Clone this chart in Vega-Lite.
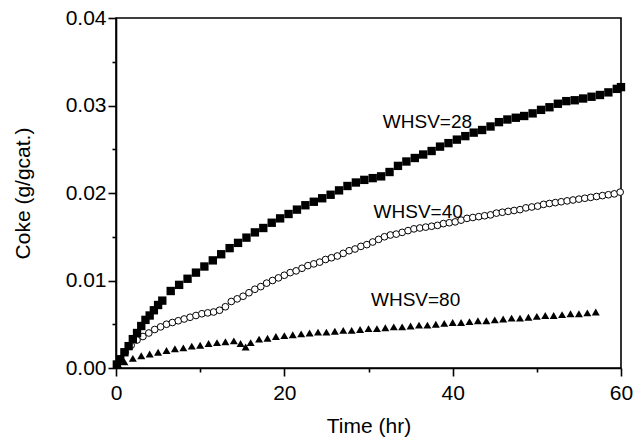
{
  "$schema": "https://vega.github.io/schema/vega-lite/v6.json",
  "width": 505,
  "height": 350,
  "autosize": {"type": "none"},
  "padding": {"left": 116, "top": 18, "right": 14, "bottom": 69},
  "background": "white",
  "config": {
    "view": {"stroke": "black", "strokeWidth": 1.6},
    "font": "Liberation Sans",
    "axis": {"domainColor": "black", "domainWidth": 1.6, "tickColor": "black", "tickWidth": 1.6, "grid": false, "labelColor": "black", "titleColor": "black", "labelFont": "Liberation Sans", "titleFont": "Liberation Sans", "labelFontSize": 21, "titleFontSize": 21, "titleFontWeight": "normal"}
  },
  "datasets": {
    "s28": [
      {"t": 0.1, "c": 0.0004}, {"t": 0.5, "c": 0.001}, {"t": 1, "c": 0.0018}, {"t": 1.5, "c": 0.0025}, {"t": 2, "c": 0.0033}, {"t": 2.5, "c": 0.004}, {"t": 3, "c": 0.0048}, {"t": 3.5, "c": 0.0055}, {"t": 4, "c": 0.006}, {"t": 4.5, "c": 0.0066}, {"t": 5, "c": 0.0072}, {"t": 5.5, "c": 0.0077},
      {"t": 6.5, "c": 0.0088}, {"t": 7.5, "c": 0.0095}, {"t": 8.5, "c": 0.0102}, {"t": 9.5, "c": 0.0109}, {"t": 10.5, "c": 0.0116}, {"t": 11.5, "c": 0.0123}, {"t": 12.5, "c": 0.013}, {"t": 13.5, "c": 0.0137}, {"t": 14.5, "c": 0.0143}, {"t": 15.5, "c": 0.0149}, {"t": 16.5, "c": 0.0155}, {"t": 17.5, "c": 0.016}, {"t": 18.5, "c": 0.0166}, {"t": 19.5, "c": 0.0171}, {"t": 20.5, "c": 0.0176}, {"t": 21.5, "c": 0.0181}, {"t": 22.5, "c": 0.0186}, {"t": 23.5, "c": 0.019}, {"t": 24.5, "c": 0.0194}, {"t": 25.5, "c": 0.0198}, {"t": 26.5, "c": 0.0203}, {"t": 27.5, "c": 0.0208}, {"t": 28.5, "c": 0.0212}, {"t": 29.5, "c": 0.0215}, {"t": 30.5, "c": 0.0217}, {"t": 31.5, "c": 0.0219}, {"t": 32.5, "c": 0.0224}, {"t": 33.5, "c": 0.0231}, {"t": 34.5, "c": 0.0236}, {"t": 35.5, "c": 0.024}, {"t": 36.5, "c": 0.0244}, {"t": 37.5, "c": 0.0248}, {"t": 38.5, "c": 0.0253}, {"t": 39.5, "c": 0.0257}, {"t": 40.5, "c": 0.0261}, {"t": 41.5, "c": 0.0265}, {"t": 42.5, "c": 0.0269}, {"t": 43.5, "c": 0.0272}, {"t": 44.5, "c": 0.0276}, {"t": 45.5, "c": 0.0281}, {"t": 46.5, "c": 0.0284}, {"t": 47.5, "c": 0.0286}, {"t": 48.5, "c": 0.0288}, {"t": 49.5, "c": 0.0291}, {"t": 50.5, "c": 0.0295}, {"t": 51.5, "c": 0.0298}, {"t": 52.5, "c": 0.0302}, {"t": 53.5, "c": 0.0305}, {"t": 54.5, "c": 0.0306}, {"t": 55.5, "c": 0.0308}, {"t": 56.5, "c": 0.031}, {"t": 57.5, "c": 0.0312}, {"t": 58.5, "c": 0.0315}, {"t": 59.5, "c": 0.0319}, {"t": 60, "c": 0.0321}
    ],
    "s40": [
      {"t": 0.4, "c": 0.0008}, {"t": 1.1, "c": 0.0018}, {"t": 1.8, "c": 0.0026}, {"t": 2.5, "c": 0.0032}, {"t": 3.2, "c": 0.0036}, {"t": 3.9, "c": 0.004}, {"t": 4.6, "c": 0.0044}, {"t": 5.3, "c": 0.0047}, {"t": 6.0, "c": 0.005}, {"t": 6.7, "c": 0.0052}, {"t": 7.4, "c": 0.0054}, {"t": 8.1, "c": 0.0056}, {"t": 8.8, "c": 0.0058}, {"t": 9.5, "c": 0.006}, {"t": 10.2, "c": 0.0062}, {"t": 10.9, "c": 0.0063}, {"t": 11.6, "c": 0.0064}, {"t": 12.3, "c": 0.0066}, {"t": 13.0, "c": 0.007}, {"t": 13.7, "c": 0.0076}, {"t": 14.4, "c": 0.0079}, {"t": 15.1, "c": 0.0082}, {"t": 15.8, "c": 0.0086}, {"t": 16.5, "c": 0.009}, {"t": 17.2, "c": 0.0093}, {"t": 17.9, "c": 0.0097}, {"t": 18.6, "c": 0.01}, {"t": 19.3, "c": 0.0103}, {"t": 20.0, "c": 0.0106}, {"t": 20.7, "c": 0.0109}, {"t": 21.4, "c": 0.0111}, {"t": 22.1, "c": 0.0114}, {"t": 22.8, "c": 0.0117}, {"t": 23.5, "c": 0.0119}, {"t": 24.2, "c": 0.0121}, {"t": 24.9, "c": 0.0124}, {"t": 25.6, "c": 0.0126}, {"t": 26.3, "c": 0.0128}, {"t": 27.0, "c": 0.0131}, {"t": 27.7, "c": 0.0134}, {"t": 28.4, "c": 0.0136}, {"t": 29.1, "c": 0.0139}, {"t": 29.8, "c": 0.0141}, {"t": 30.5, "c": 0.0144}, {"t": 31.2, "c": 0.0147}, {"t": 31.9, "c": 0.015}, {"t": 32.6, "c": 0.0152}, {"t": 33.3, "c": 0.0153}, {"t": 34.0, "c": 0.0155}, {"t": 34.7, "c": 0.0157}, {"t": 35.4, "c": 0.0159}, {"t": 36.1, "c": 0.016}, {"t": 36.8, "c": 0.0161}, {"t": 37.5, "c": 0.0162}, {"t": 38.2, "c": 0.0163}, {"t": 38.9, "c": 0.0165}, {"t": 39.6, "c": 0.0166}, {"t": 40.3, "c": 0.0167}, {"t": 41.0, "c": 0.0169}, {"t": 41.7, "c": 0.0171}, {"t": 42.4, "c": 0.0172}, {"t": 43.1, "c": 0.0173}, {"t": 43.8, "c": 0.0174}, {"t": 44.5, "c": 0.0175}, {"t": 45.2, "c": 0.0177}, {"t": 45.9, "c": 0.0178}, {"t": 46.6, "c": 0.0179}, {"t": 47.3, "c": 0.018}, {"t": 48.0, "c": 0.0181}, {"t": 48.7, "c": 0.0183}, {"t": 49.4, "c": 0.0184}, {"t": 50.1, "c": 0.0185}, {"t": 50.8, "c": 0.0187}, {"t": 51.5, "c": 0.0188}, {"t": 52.2, "c": 0.0189}, {"t": 52.9, "c": 0.019}, {"t": 53.6, "c": 0.0191}, {"t": 54.3, "c": 0.0192}, {"t": 55.0, "c": 0.0193}, {"t": 55.7, "c": 0.0194}, {"t": 56.4, "c": 0.0195}, {"t": 57.1, "c": 0.0196}, {"t": 57.8, "c": 0.0197}, {"t": 58.5, "c": 0.0198}, {"t": 59.2, "c": 0.0199}, {"t": 59.9, "c": 0.0201}
    ],
    "s80": [
      {"t": 0.3, "c": 0.0003}, {"t": 1, "c": 0.0007}, {"t": 2, "c": 0.0011}, {"t": 3, "c": 0.0014}, {"t": 4, "c": 0.0016}, {"t": 5, "c": 0.0018}, {"t": 6, "c": 0.002}, {"t": 7, "c": 0.0022}, {"t": 8, "c": 0.0023}, {"t": 9, "c": 0.0025}, {"t": 10, "c": 0.0026}, {"t": 11, "c": 0.0028}, {"t": 12, "c": 0.0029}, {"t": 13, "c": 0.003}, {"t": 14, "c": 0.0031}, {"t": 14.8, "c": 0.0028}, {"t": 15.4, "c": 0.0024}, {"t": 16, "c": 0.0029}, {"t": 17, "c": 0.0033}, {"t": 18, "c": 0.0034}, {"t": 19, "c": 0.0036}, {"t": 20, "c": 0.0037}, {"t": 21, "c": 0.0038}, {"t": 22, "c": 0.0039}, {"t": 23, "c": 0.004}, {"t": 24, "c": 0.0041}, {"t": 25, "c": 0.0041}, {"t": 26, "c": 0.0042}, {"t": 27, "c": 0.0043}, {"t": 28, "c": 0.0043}, {"t": 29, "c": 0.0044}, {"t": 30, "c": 0.0045}, {"t": 31, "c": 0.0045}, {"t": 32, "c": 0.0046}, {"t": 33, "c": 0.0047}, {"t": 34, "c": 0.0047}, {"t": 35, "c": 0.0048}, {"t": 36, "c": 0.0049}, {"t": 37, "c": 0.0049}, {"t": 38, "c": 0.005}, {"t": 39, "c": 0.0051}, {"t": 40, "c": 0.0052}, {"t": 41, "c": 0.0052}, {"t": 42, "c": 0.0053}, {"t": 43, "c": 0.0054}, {"t": 44, "c": 0.0054}, {"t": 45, "c": 0.0055}, {"t": 46, "c": 0.0056}, {"t": 47, "c": 0.0057}, {"t": 48, "c": 0.0057}, {"t": 49, "c": 0.0058}, {"t": 50, "c": 0.0059}, {"t": 51, "c": 0.006}, {"t": 52, "c": 0.006}, {"t": 53, "c": 0.0061}, {"t": 54, "c": 0.0062}, {"t": 55, "c": 0.0062}, {"t": 56, "c": 0.0063}, {"t": 57, "c": 0.0064}
    ],
    "labels": [
      {"t": 37.0, "c": 0.0281, "txt": "WHSV=28"},
      {"t": 35.9, "c": 0.0178, "txt": "WHSV=40"},
      {"t": 35.6, "c": 0.0078, "txt": "WHSV=80"}
    ]
  },
  "encoding": {
    "x": {"field": "t", "type": "quantitative", "scale": {"domain": [0, 60], "nice": false},
      "axis": {"title": "Time (hr)", "values": [0, 10, 20, 30, 40, 50, 60], "labelExpr": "datum.value % 20 == 0 ? datum.label : ''", "tickSize": {"condition": {"test": "datum.value % 20 == 0", "value": 8}, "value": 4}, "labelPadding": 6, "titlePadding": 12, "labelFlush": false}},
    "y": {"field": "c", "type": "quantitative", "scale": {"domain": [0, 0.04], "nice": false},
      "axis": {"title": "Coke (g/gcat.)", "values": [0, 0.005, 0.01, 0.015, 0.02, 0.025, 0.03, 0.035, 0.04], "format": ".2f", "labelExpr": "round(datum.value * 1000) % 10 == 0 ? datum.label : ''", "tickSize": {"condition": {"test": "round(datum.value * 1000) % 10 == 0", "value": 8}, "value": 4}, "labelPadding": 2, "titlePadding": 32, "labelFlush": false}}
  },
  "layer": [
    {"data": {"name": "s80"}, "mark": {"type": "point", "shape": "triangle-up", "filled": true, "color": "black", "size": 64, "opacity": 1}},
    {"data": {"name": "s40"}, "mark": {"type": "point", "shape": "circle", "filled": false, "fill": "white", "stroke": "black", "strokeWidth": 1, "size": 45, "opacity": 1}},
    {"data": {"name": "s28"}, "mark": {"type": "point", "shape": "square", "filled": true, "color": "black", "size": 70, "opacity": 1}},
    {"data": {"name": "labels"}, "mark": {"type": "text", "fontSize": 19, "font": "Liberation Sans", "color": "black", "align": "center", "baseline": "middle"}, "encoding": {"text": {"field": "txt"}}}
  ]
}
